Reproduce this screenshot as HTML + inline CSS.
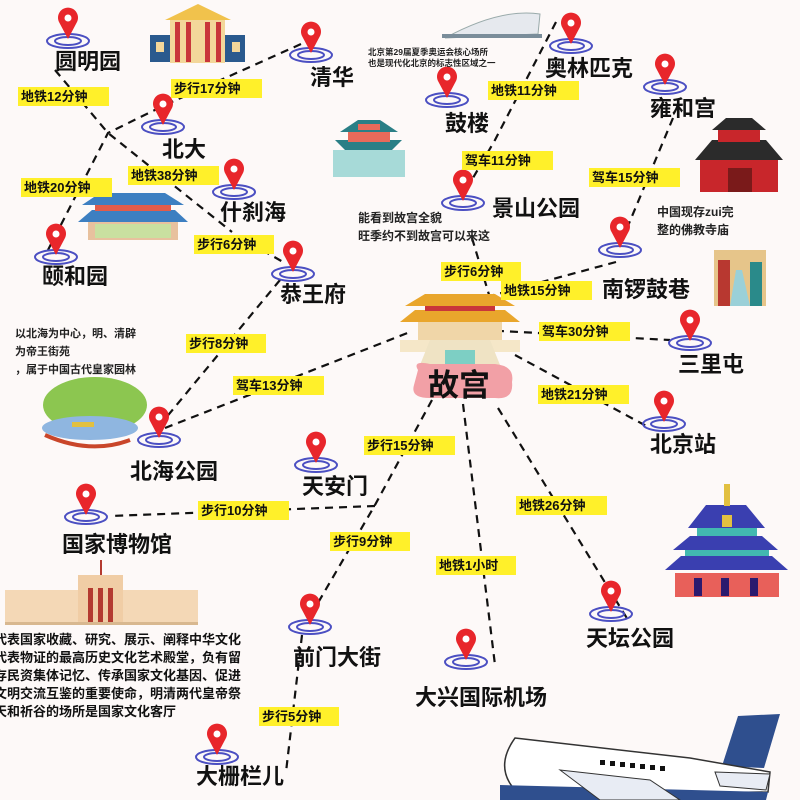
<!DOCTYPE html>
<html><head><meta charset="utf-8">
<style>
html,body{margin:0;padding:0;background:#fdf9f8;}
svg{display:block;font-family:"Liberation Sans","Noto Sans CJK SC",sans-serif;}
.n{font-size:22px;font-weight:bold;fill:#111;}
.t{font-size:13px;font-weight:bold;fill:#111;}
.s{font-size:11px;font-weight:bold;fill:#222;}
.ln{stroke:#111;stroke-width:2.2;stroke-dasharray:8 6;fill:none;}
</style></head><body>
<svg width="800" height="800" viewBox="0 0 800 800" xmlns="http://www.w3.org/2000/svg">
<defs>
<g id="pin">
 <ellipse cx="0" cy="0" rx="21" ry="7" fill="none" stroke="#4b4fc2" stroke-width="2"/>
 <ellipse cx="0" cy="0" rx="13" ry="4" fill="none" stroke="#4b4fc2" stroke-width="2"/>
 <path d="M0,-2 L-9,-19 A10,10 0 1 1 9,-19 Z" fill="#e8262b"/>
 <circle cx="0" cy="-23" r="3.5" fill="#fff"/>
</g>
</defs>
<rect width="800" height="800" fill="#fdf9f8"/>

<!-- dashed lines -->
<path class="ln" d="M55,70 L108,133 L232,232"/>
<path class="ln" d="M48,250 L108,133 L165,105 L310,40"/>
<path class="ln" d="M238,236 L283,262"/>
<path class="ln" d="M280,280 L160,425"/>
<path class="ln" d="M165,428 L410,332"/>
<path class="ln" d="M556,22 L495,140 L466,190"/>
<path class="ln" d="M472,238 L490,298"/>
<path class="ln" d="M673,118 L620,245"/>
<path class="ln" d="M616,262 L490,296"/>
<path class="ln" d="M482,330 L670,340"/>
<path class="ln" d="M515,355 L650,428"/>
<path class="ln" d="M432,400 L375,505 L308,620"/>
<path class="ln" d="M375,506 L110,516"/>
<path class="ln" d="M302,635 L286,772"/>
<path class="ln" d="M463,404 L495,665"/>
<path class="ln" d="M498,408 L628,620"/>

<!-- 圆明园 classical -->
<g>
<rect x="150" y="35" width="95" height="27" fill="#2a5a8e"/>
<rect x="170" y="18" width="55" height="45" fill="#f3d79a"/>
<polygon points="165,20 198,4 231,20" fill="#f1c24c"/>
<rect x="175" y="22" width="5" height="40" fill="#c9363a"/><rect x="186" y="22" width="5" height="40" fill="#c9363a"/><rect x="205" y="22" width="5" height="40" fill="#c9363a"/><rect x="216" y="22" width="5" height="40" fill="#c9363a"/>
<rect x="156" y="42" width="8" height="10" fill="#f3d79a"/><rect x="232" y="42" width="8" height="10" fill="#f3d79a"/>
</g>
<!-- bird nest -->
<g><path d="M445,38 Q500,8 540,14 L538,34 Z" fill="#e6e9ee" stroke="#9aa" stroke-width="1"/><rect x="442" y="34" width="100" height="4" fill="#7a8d9a"/></g>
<!-- 鼓楼 -->
<g>
<rect x="333" y="150" width="72" height="27" fill="#a7dad8"/>
<polygon points="345,150 392,150 402,140 335,140" fill="#2a7f86"/>
<rect x="348" y="132" width="42" height="10" fill="#e86a5a"/>
<polygon points="340,132 398,132 380,120 358,120" fill="#2a7f86"/>
<rect x="358" y="124" width="22" height="6" fill="#e86a5a"/>
</g>
<!-- 雍和宫 -->
<g>
<rect x="700" y="160" width="78" height="32" fill="#c8262b"/>
<polygon points="695,160 783,160 766,140 712,140" fill="#2b2b2b"/>
<rect x="718" y="130" width="42" height="12" fill="#c8262b"/>
<polygon points="712,130 766,130 752,118 726,118" fill="#2b2b2b"/>
<rect x="728" y="168" width="24" height="24" fill="#7a1a1a"/>
</g>
<!-- 颐和园 building -->
<g>
<rect x="88" y="218" width="90" height="22" fill="#e8c19e"/>
<polygon points="78,222 188,222 175,210 92,210" fill="#3d7fc1"/>
<rect x="95" y="203" width="76" height="8" fill="#e25c4a"/>
<polygon points="82,205 184,205 165,193 100,193" fill="#3d7fc1"/>
<rect x="95" y="224" width="76" height="14" fill="#c9e0a0"/>
</g>
<!-- 故宫 palace -->
<g>
<rect x="400" y="340" width="120" height="12" fill="#f5e7c8"/>
<polygon points="420,365 500,365 490,340 430,340" fill="#efe3c4"/>
<rect x="445" y="350" width="30" height="15" fill="#7dcfc4"/>
<polygon points="400,322 520,322 505,310 415,310" fill="#e9a62c"/>
<rect x="418" y="322" width="84" height="18" fill="#f0d6a8"/>
<polygon points="405,306 515,306 495,294 425,294" fill="#e9a62c"/>
<rect x="425" y="306" width="70" height="5" fill="#c9363a"/>
</g>
<!-- 南锣 alley -->
<g><rect x="714" y="250" width="52" height="56" fill="#e6c58a"/><rect x="718" y="260" width="12" height="46" fill="#b83830"/><rect x="750" y="262" width="12" height="44" fill="#2a8a8a"/><polygon points="730,306 750,306 742,270 736,270" fill="#9ad0d8"/></g>
<!-- 北海 willow -->
<g><ellipse cx="95" cy="405" rx="52" ry="28" fill="#8cc650"/><ellipse cx="90" cy="428" rx="48" ry="12" fill="#8fb6e0"/><rect x="72" y="422" width="22" height="5" fill="#e2c040"/><path d="M45,435 Q90,455 130,440" stroke="#c9462a" stroke-width="4" fill="none"/></g>
<!-- 天坛 -->
<g>
<rect x="675" y="573" width="104" height="24" fill="#e8605a"/>
<rect x="694" y="578" width="8" height="18" fill="#2b1a6e"/><rect x="721" y="578" width="8" height="18" fill="#2b1a6e"/><rect x="750" y="578" width="8" height="18" fill="#2b1a6e"/>
<polygon points="665,570 788,570 772,556 681,556" fill="#3a3fb0"/>
<rect x="685" y="548" width="84" height="8" fill="#42b8b0"/>
<polygon points="673,550 778,550 762,536 690,536" fill="#3a3fb0"/>
<rect x="697" y="528" width="60" height="8" fill="#42b8b0"/>
<polygon points="688,528 765,528 746,505 706,505" fill="#3a3fb0"/>
<rect x="722" y="515" width="10" height="12" fill="#e2c040"/>
<rect x="724" y="484" width="6" height="22" fill="#e2c040"/>
</g>
<!-- 国博 museum -->
<g>
<rect x="5" y="590" width="193" height="33" fill="#f4d8b6"/>
<rect x="78" y="575" width="45" height="48" fill="#f0cda5"/>
<rect x="88" y="588" width="5" height="35" fill="#b43a30"/><rect x="98" y="588" width="5" height="35" fill="#b43a30"/><rect x="108" y="588" width="5" height="35" fill="#b43a30"/>
<rect x="100" y="560" width="2" height="15" fill="#b43a30"/>
<rect x="5" y="622" width="193" height="3" fill="#d8b890"/>
</g>
<!-- plane -->
<g>
<polygon points="738,716 780,714 764,768 722,766" fill="#2f4f8e"/>
<path d="M515,738 L690,758 L770,772 L768,792 L520,795 Q492,770 515,738 Z" fill="#fff" stroke="#333" stroke-width="1.5"/>
<path d="M500,785 L768,792 L766,800 L500,800 Z" fill="#2f4f8e"/>
<polygon points="560,770 650,780 680,800 600,800" fill="#e8ecf4" stroke="#333" stroke-width="1"/>
<polygon points="715,772 770,774 766,790 720,786" fill="#e8ecf4" stroke="#333" stroke-width="1"/>
<g fill="#111"><rect x="600" y="760" width="5" height="5"/><rect x="610" y="761" width="5" height="5"/><rect x="620" y="762" width="5" height="5"/><rect x="630" y="763" width="5" height="5"/><rect x="640" y="764" width="5" height="5"/><rect x="650" y="765" width="5" height="5"/><rect x="660" y="766" width="5" height="5"/></g>
</g>

<!-- 故宫 pink blob -->
<path d="M418,370 Q412,360 430,364 L495,364 Q515,366 512,382 Q514,400 495,398 L430,398 Q410,398 414,385 Z" fill="#f2a0a6"/>

<!-- pins -->
<use href="#pin" x="68" y="41"/>
<use href="#pin" x="311" y="55"/>
<use href="#pin" x="163" y="127"/>
<use href="#pin" x="234" y="192"/>
<use href="#pin" x="56" y="257"/>
<use href="#pin" x="293" y="274"/>
<use href="#pin" x="571" y="46"/>
<use href="#pin" x="447" y="100"/>
<use href="#pin" x="665" y="87"/>
<use href="#pin" x="463" y="203"/>
<use href="#pin" x="620" y="250"/>
<use href="#pin" x="690" y="343"/>
<use href="#pin" x="664" y="424"/>
<use href="#pin" x="159" y="440"/>
<use href="#pin" x="316" y="465"/>
<use href="#pin" x="86" y="517"/>
<use href="#pin" x="611" y="614"/>
<use href="#pin" x="310" y="627"/>
<use href="#pin" x="466" y="662"/>
<use href="#pin" x="217" y="757"/>

<!-- place names -->
<g class="n">
<text x="55" y="69">圆明园</text>
<text x="310" y="85">清华</text>
<text x="162" y="157">北大</text>
<text x="220" y="220">什刹海</text>
<text x="42" y="284">颐和园</text>
<text x="280" y="302">恭王府</text>
<text x="545" y="76">奥林匹克</text>
<text x="445" y="131">鼓楼</text>
<text x="650" y="116">雍和宫</text>
<text x="492" y="216">景山公园</text>
<text x="602" y="297">南锣鼓巷</text>
<text x="678" y="372">三里屯</text>
<text x="650" y="452">北京站</text>
<text x="130" y="479">北海公园</text>
<text x="302" y="494">天安门</text>
<text x="62" y="552">国家博物馆</text>
<text x="586" y="646">天坛公园</text>
<text x="293" y="665">前门大街</text>
<text x="415" y="705">大兴国际机场</text>
<text x="196" y="784">大栅栏儿</text>
<text x="428" y="396" style="font-size:31px">故宫</text>
</g>

<!-- yellow labels -->
<g>
<rect x="18" y="87" width="91" height="19" fill="#fff02a"/><text class="t" x="21" y="101">地铁12分钟</text>
<rect x="171" y="79" width="91" height="19" fill="#fff02a"/><text class="t" x="174" y="93">步行17分钟</text>
<rect x="128" y="166" width="91" height="19" fill="#fff02a"/><text class="t" x="131" y="180">地铁38分钟</text>
<rect x="21" y="178" width="91" height="19" fill="#fff02a"/><text class="t" x="24" y="192">地铁20分钟</text>
<rect x="194" y="235" width="80" height="19" fill="#fff02a"/><text class="t" x="197" y="249">步行6分钟</text>
<rect x="488" y="81" width="91" height="19" fill="#fff02a"/><text class="t" x="491" y="95">地铁11分钟</text>
<rect x="462" y="151" width="91" height="19" fill="#fff02a"/><text class="t" x="465" y="165">驾车11分钟</text>
<rect x="589" y="168" width="91" height="19" fill="#fff02a"/><text class="t" x="592" y="182">驾车15分钟</text>
<rect x="441" y="262" width="80" height="19" fill="#fff02a"/><text class="t" x="444" y="276">步行6分钟</text>
<rect x="501" y="281" width="91" height="19" fill="#fff02a"/><text class="t" x="504" y="295">地铁15分钟</text>
<rect x="539" y="322" width="91" height="19" fill="#fff02a"/><text class="t" x="542" y="336">驾车30分钟</text>
<rect x="186" y="334" width="80" height="19" fill="#fff02a"/><text class="t" x="189" y="348">步行8分钟</text>
<rect x="233" y="376" width="91" height="19" fill="#fff02a"/><text class="t" x="236" y="390">驾车13分钟</text>
<rect x="538" y="385" width="91" height="19" fill="#fff02a"/><text class="t" x="541" y="399">地铁21分钟</text>
<rect x="364" y="436" width="91" height="19" fill="#fff02a"/><text class="t" x="367" y="450">步行15分钟</text>
<rect x="198" y="501" width="91" height="19" fill="#fff02a"/><text class="t" x="201" y="515">步行10分钟</text>
<rect x="516" y="496" width="91" height="19" fill="#fff02a"/><text class="t" x="519" y="510">地铁26分钟</text>
<rect x="330" y="532" width="80" height="19" fill="#fff02a"/><text class="t" x="333" y="546">步行9分钟</text>
<rect x="436" y="556" width="80" height="19" fill="#fff02a"/><text class="t" x="439" y="570">地铁1小时</text>
<rect x="259" y="707" width="80" height="19" fill="#fff02a"/><text class="t" x="262" y="721">步行5分钟</text>
</g>

<!-- notes -->
<g>
<text x="368" y="55" style="font-size:8.5px;font-weight:bold;fill:#222">北京第29届夏季奥运会核心场所</text>
<text x="368" y="66" style="font-size:8.5px;font-weight:bold;fill:#222">也是现代化北京的标志性区域之一</text>
<text class="s" x="358" y="222" style="font-size:12px">能看到故宫全貌</text>
<text class="s" x="358" y="240" style="font-size:12px">旺季约不到故宫可以来这</text>
<text class="s" x="657" y="216" style="font-size:12px">中国现存zui完</text>
<text class="s" x="657" y="234" style="font-size:12px">整的佛教寺庙</text>
<text class="s" x="15" y="337">以北海为中心，明、清辟</text>
<text class="s" x="15" y="355">为帝王街苑</text>
<text class="s" x="15" y="373">，属于中国古代皇家园林</text>
<g style="font-size:13px;font-weight:bold;fill:#111">
<text x="-6" y="644">代表国家收藏、研究、展示、阐释中华文化</text>
<text x="-6" y="662">代表物证的最高历史文化艺术殿堂，负有留</text>
<text x="-6" y="680">存民资集体记忆、传承国家文化基因、促进</text>
<text x="-6" y="698">文明交流互鉴的重要使命，明清两代皇帝祭</text>
<text x="-6" y="716">天和祈谷的场所是国家文化客厅</text>
</g>
</g>
</svg>
</body></html>
